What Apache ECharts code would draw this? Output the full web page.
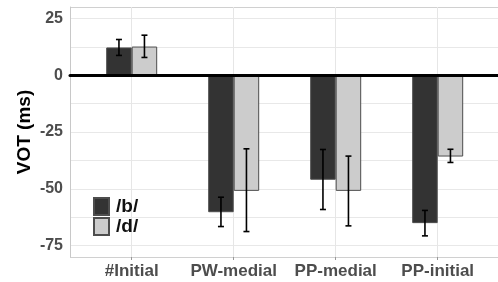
<!DOCTYPE html>
<html>
<head>
<meta charset="utf-8">
<script src="https://cdn.jsdelivr.net/npm/echarts@6/dist/echarts.min.js"></script>
<style>
html,body{margin:0;padding:0;background:#fff;}
#Charts1{width:498px;height:282px;}
</style>
</head>
<body>
<div id="Charts1"></div>
<script>
// data
var categories = ['#Initial', 'PW-medial', 'PP-medial', 'PP-initial'];
var seriesNames = ['/b/', '/d/'];
var bMean = [12.2, -60.3, -46.0, -65.1];
var dMean = [12.6, -50.9, -50.9, -35.8];
var bLow = [8.7, -66.6, -59.1, -70.7];
var bHigh = [15.7, -53.7, -32.7, -59.5];
var dLow = [7.8, -68.8, -66.3, -38.4];
var dHigh = [17.6, -32.4, -35.6, -32.6];
var yTicks = [-75, -50, -25, 0, 25];
// panel edges (-80, 30) plus major and minor grid values
var yGrid = [-80, -75, -62.5, -50, -37.5, -25, -12.5, 0, 12.5, 25, 30];

var fontFam = '"Liberation Sans", Arial, sans-serif';
var myChart = echarts.init(document.getElementById('Charts1'));

function errData(low, high){
	var out = [];
	for (var i = 0; i < categories.length; i++) {
		out.push([i, low[i], high[i]]);
	}
	return out;
}

function errRender(side){
	return function(params, api){
		var band = api.size([1, 0])[0];
		var off = side * band * 0.125;
		var top = api.coord([api.value(0), api.value(2)]);
		var bot = api.coord([api.value(0), api.value(1)]);
		var x = top[0] + off, cap = 3;
		var st = {stroke: '#000', lineWidth: 1.6};
		return {
			type: 'group',
			children: [
				{type: 'line', shape: {x1: x, y1: top[1], x2: x, y2: bot[1]}, style: st},
				{type: 'line', shape: {x1: x - cap, y1: top[1], x2: x + cap, y2: top[1]}, style: st},
				{type: 'line', shape: {x1: x - cap, y1: bot[1], x2: x + cap, y2: bot[1]}, style: st}
			]
		};
	};
}

var gridColors = yGrid.map(function(v, i){
	return (i === 0 || i === yGrid.length - 1) ? '#d0d0d0' : '#e8e8e8';
});

var option = {
	animation: false,
	textStyle: {fontFamily: fontFam},
	grid: [
		{left: 70, top: 7, width: 440, height: 250, outerBoundsMode: 'none'},
		{left: 131.7, top: 7, width: 306, height: 250, outerBoundsMode: 'none'}
	],
	legend: {
		orient: 'vertical',
		left: 88, top: 192,
		itemWidth: 15, itemHeight: 17, itemGap: 1,
		icon: 'rect',
		data: seriesNames,
		textStyle: {fontSize: 19, fontWeight: 'bold', color: '#111', fontFamily: fontFam, padding: [0, 0, 0, 2]}
	},
	xAxis: [
		{ // zero line across the panel
			gridIndex: 0, type: 'value', min: 0, max: 1, z: 10,
			axisLine: {show: true, onZero: true, lineStyle: {color: '#000', width: 3}},
			axisTick: {show: false}, axisLabel: {show: false}, splitLine: {show: false}
		},
		{
			gridIndex: 1, type: 'category', data: categories, boundaryGap: false,
			axisLine: {show: false, onZero: false},
			axisTick: {show: true, length: 3, lineStyle: {color: '#999'}},
			axisLabel: {interval: 0, fontSize: 17, fontWeight: 'bold', color: '#4d4d4d', margin: 6},
			splitLine: {show: true, interval: 0, lineStyle: {color: '#e6e6e6', width: 1}}
		}
	],
	yAxis: [
		{
			gridIndex: 0, type: 'value', min: -80, max: 30, position: 'left',
			name: 'VOT (ms)', nameLocation: 'middle', nameGap: 36, nameMoveOverlap: false,
			nameTextStyle: {fontSize: 19, fontWeight: 'bold', color: '#000', fontFamily: fontFam},
			axisLine: {show: true, onZero: false, lineStyle: {color: '#c8c8c8', width: 1}},
			axisTick: {show: false, customValues: yGrid},
			axisLabel: {customValues: yTicks, fontSize: 16, fontWeight: 'bold', color: '#4d4d4d', margin: 7},
			splitLine: {show: true, lineStyle: {color: gridColors, width: 1}}
		},
		{
			gridIndex: 1, type: 'value', min: -80, max: 30, show: false
		}
	],
	series: [
		{
			name: seriesNames[0], type: 'bar', xAxisIndex: 1, yAxisIndex: 1,
			data: bMean, barWidth: '25%', barGap: '0%', clip: false,
			itemStyle: {color: '#333333', borderColor: '#4d4d4d', borderWidth: 1}
		},
		{
			name: seriesNames[1], type: 'bar', xAxisIndex: 1, yAxisIndex: 1,
			data: dMean, barWidth: '25%', barGap: '0%', clip: false,
			itemStyle: {color: '#cccccc', borderColor: '#4d4d4d', borderWidth: 1}
		},
		{
			type: 'custom', xAxisIndex: 1, yAxisIndex: 1, z: 5, clip: false,
			data: errData(bLow, bHigh), renderItem: errRender(-1)
		},
		{
			type: 'custom', xAxisIndex: 1, yAxisIndex: 1, z: 5, clip: false,
			data: errData(dLow, dHigh), renderItem: errRender(1)
		}
	]
};
myChart.setOption(option);
</script>
</body>
</html>
